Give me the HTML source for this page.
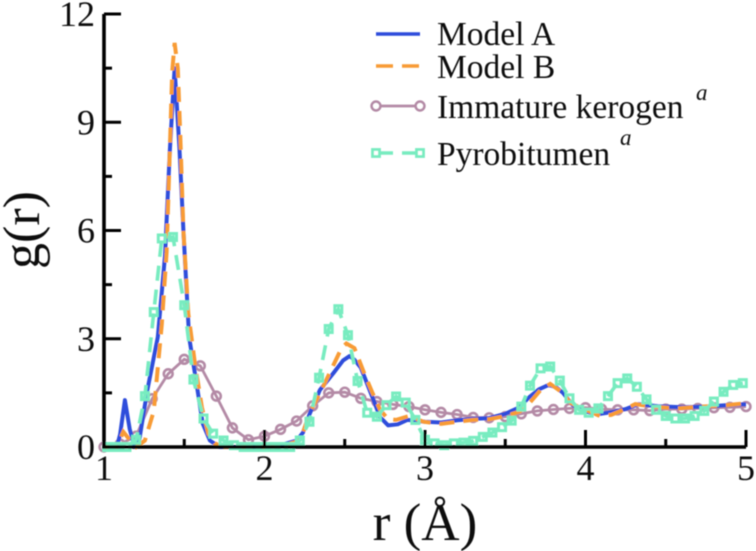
<!DOCTYPE html>
<html lang="en">
<head>
<meta charset="utf-8">
<title>g(r) chart</title>
<style>
html,body{margin:0;padding:0;background:#fff;}
svg{display:block;}
text{font-family:"Liberation Serif",serif;fill:#111;}
</style>
</head>
<body>
<svg id="chart" width="756" height="551" viewBox="0 0 756 551" xmlns="http://www.w3.org/2000/svg">
<defs><filter id="soft" x="-5%" y="-5%" width="110%" height="110%"><feGaussianBlur stdDeviation="0.55"/></filter></defs>
<g id="root" filter="url(#soft)">
<g id="marks"></g>
<g id="axes"></g>
<text x="425" y="540" font-size="53" text-anchor="middle">r (Å)</text>
<text transform="translate(39,230) rotate(-90)" font-size="52" text-anchor="middle">g(r)</text>
<g>
<g>
<line x1="376" x2="420" y1="34" y2="34" stroke="#2f4ddb" stroke-width="3.4"/>
<text x="437" y="45" font-size="33.5">Model A</text>
</g>
<g>
<line x1="376" x2="420" y1="66" y2="66" stroke="#f89b36" stroke-width="3.4" stroke-dasharray="17 9"/>
<text x="437" y="78" font-size="33.5">Model B</text>
</g>
<g>
<line x1="376" x2="420" y1="106" y2="106" stroke="#b48aa6" stroke-width="2.8"/>
<circle cx="376" cy="106" r="4.4" fill="#fff" stroke="#b48aa6" stroke-width="2.6"/>
<circle cx="420" cy="106" r="4.4" fill="#fff" stroke="#b48aa6" stroke-width="2.6"/>
<text x="437" y="118" font-size="33.5">Immature kerogen</text>
<text x="696" y="100" font-size="23" font-style="italic">a</text>
</g>
<g>
<line x1="376" x2="420" y1="153" y2="153" stroke="#78ecc0" stroke-width="3.4" stroke-dasharray="17 9"/>
<rect x="372.5" y="149.5" width="7" height="7" fill="#fff" stroke="#78ecc0" stroke-width="2.8"/>
<rect x="416.5" y="149.5" width="7" height="7" fill="#fff" stroke="#78ecc0" stroke-width="2.8"/>
<text x="437" y="165" font-size="33.5">Pyrobitumen</text>
<text x="620" y="145" font-size="23" font-style="italic">a</text>
</g>
</g>
</g>
</svg>
<script>
const modelAR = [1,1.08,1.1,1.13,1.16,1.19,1.22,1.27,1.335,1.38,1.41,1.44,1.47,1.495,1.53,1.575,1.615,1.66,1.72,1.8,2,2.1,2.2,2.24,2.28,2.345,2.43,2.49,2.53,2.56,2.6,2.655,2.72,2.77,2.83,2.89,3,3.1,3.2,3.3,3.4,3.5,3.58,3.65,3.71,3.77,3.82,3.86,3.92,4,4.08,4.18,4.25,4.33,4.45,4.6,4.75,4.95,5];
const modelAG = [0,0,0.35,1.3,0.5,0,0.2,1.57,3.05,5.3,8.2,10.5,8.3,6,3.05,1.8,0.65,0.18,0,0,0,0.05,0.18,0.4,0.9,1.58,2.05,2.4,2.52,2.42,2.2,1.58,0.83,0.6,0.63,0.75,0.7,0.68,0.74,0.78,0.8,0.92,1.08,1.38,1.6,1.72,1.65,1.5,1.16,0.98,0.91,0.98,1.05,1.19,1.13,1.1,1.12,1.18,1.18];
const modelBR = [1,1.08,1.12,1.16,1.2,1.255,1.31,1.36,1.39,1.41,1.425,1.44,1.46,1.475,1.495,1.525,1.567,1.61,1.65,1.69,1.75,2,2.1,2.2,2.24,2.28,2.345,2.42,2.48,2.51,2.56,2.625,2.67,2.72,2.77,2.82,2.9,2.99,3.1,3.2,3.3,3.4,3.5,3.59,3.65,3.72,3.78,3.85,3.91,4,4.09,4.16,4.24,4.31,4.42,4.57,4.73,4.88,5];
const modelBG = [0,0,0.42,0.2,0,0.18,1,3.4,5.4,8.2,10.4,11.2,10.5,8.7,6,3.7,2.3,1.1,0.37,0.1,0,0,0.02,0.15,0.4,0.93,1.49,2.18,2.74,2.87,2.74,2,1.53,1.03,0.77,0.75,0.86,0.7,0.64,0.7,0.75,0.77,0.86,0.98,1.21,1.58,1.75,1.53,1.21,1.03,0.86,0.89,1.04,1.19,1.12,1.07,1.12,1.16,1.21];
const kerogenR = [1,1.1,1.2,1.3,1.4,1.5,1.6,1.7,1.8,1.9,2,2.1,2.2,2.3,2.4,2.5,2.6,2.7,2.8,2.9,3,3.1,3.2,3.3,3.4,3.5,3.6,3.7,3.8,3.9,4,4.1,4.2,4.3,4.4,4.5,4.6,4.7,4.8,4.9,5];
const kerogenG = [0,0.08,0.3,1.34,2.03,2.43,2.25,1.41,0.53,0.2,0.3,0.49,0.72,1.14,1.5,1.52,1.35,1.26,1.18,1.12,1.03,0.96,0.9,0.82,0.81,0.84,0.92,1,1.04,1.07,1.09,1.05,1.03,1.03,1.01,1.05,1.05,1.07,1.09,1.1,1.12];
const pyroR = [1.02,1.08,1.14,1.2,1.255,1.31,1.36,1.43,1.5,1.557,1.62,1.68,1.745,1.81,1.87,1.93,1.99,2.05,2.11,2.16,2.22,2.28,2.34,2.4,2.46,2.52,2.58,2.64,2.7,2.76,2.82,2.88,2.94,3,3.06,3.12,3.18,3.24,3.3,3.36,3.42,3.48,3.54,3.6,3.654,3.72,3.78,3.84,3.9,3.96,4.02,4.08,4.14,4.2,4.26,4.32,4.38,4.44,4.5,4.56,4.62,4.68,4.74,4.8,4.86,4.92,4.98];
const pyroG = [0,0,0,0.2,1.41,3.74,5.78,5.82,3.93,1.87,0.79,0.37,0.18,0.05,0,0,0,0,0,0,0.18,0.7,1.92,3.27,3.82,3.1,1.83,0.95,0.84,1.16,1.4,1.23,0.75,0.2,0.1,0.05,0.1,0.12,0.17,0.28,0.4,0.55,0.73,1.12,1.7,2.18,2.23,1.84,1.35,1.03,0.95,1.07,1.41,1.77,1.9,1.67,1.32,1.03,0.86,0.79,0.79,0.86,1,1.26,1.53,1.72,1.77];
const xMajorTicks = [1,2,3,4,5];
const xMinorTicks = [1.5,2.5,3.5,4.5];
const yMajorTicks = [0,3,6,9,12];
const yMinorTicks = [1.5,4.5,7.5,10.5];

const NS = 'http://www.w3.org/2000/svg';
const xScale = r => 104 + (r - 1) * 160.5;
const yScale = g => 447 - g * 36.08;
const marks = document.getElementById('marks');
const axes = document.getElementById('axes');
function make(tag, attrs, parent) {
  const el = document.createElementNS(NS, tag);
  for (const k in attrs) el.setAttribute(k, attrs[k]);
  parent.appendChild(el);
  return el;
}
function pts(rs, gs) {
  return rs.map((r, i) => xScale(r).toFixed(1) + ',' + yScale(gs[i]).toFixed(1)).join(' ');
}

const kerogenLine = make('polyline', {points: pts(kerogenR, kerogenG), fill: 'none', stroke: '#b48aa6', 'stroke-width': 2.8}, marks);


kerogenR.forEach((r, i) => {
  const c = make('circle', {cx: xScale(r), cy: yScale(kerogenG[i]), r: 4.4, fill: 'none', stroke: '#b48aa6', 'stroke-width': 2.6}, marks);
  
  
});
const modelALine = make('polyline', {points: pts(modelAR, modelAG), fill: 'none', stroke: '#2f4ddb', 'stroke-width': 4, 'stroke-linejoin': 'round'}, marks);


const modelBLine = make('polyline', {points: pts(modelBR, modelBG), fill: 'none', stroke: '#f89b36', 'stroke-width': 4, 'stroke-dasharray': '15 9'}, marks);


const pyroLine = make('polyline', {points: pts(pyroR, pyroG), fill: 'none', stroke: '#78ecc0', 'stroke-width': 3.6, 'stroke-dasharray': '15 9'}, marks);


pyroR.forEach((r, i) => {
  const s = make('rect', {x: xScale(r) - 3.5, y: yScale(pyroG[i]) - 3.5, width: 7, height: 7, fill: 'none', stroke: '#78ecc0', 'stroke-width': 3}, marks);
  
  
});

const axisPath = make('path', {d: 'M' + xScale(1) + ' ' + yScale(12) + 'V' + yScale(0) + 'H' + xScale(5), fill: 'none', stroke: '#000', 'stroke-width': 3.6}, axes);


function xTick(v, len) {
  const t = make('line', {x1: xScale(v), x2: xScale(v), y1: yScale(0), y2: yScale(0) - len, stroke: '#000', 'stroke-width': 3}, axes);
  
  
}
function yTick(v, len) {
  const t = make('line', {x1: xScale(1), x2: xScale(1) + len, y1: yScale(v), y2: yScale(v), stroke: '#000', 'stroke-width': 3}, axes);
  
  
}
xMajorTicks.forEach(v => {
  xTick(v, 17);
  const t = make('text', {x: xScale(v), y: 480, 'font-size': 36, 'text-anchor': 'middle'}, axes);
  
  
  t.textContent = v;
});
xMinorTicks.forEach(v => xTick(v, 8));
yMajorTicks.forEach(v => {
  yTick(v, 17);
  const t = make('text', {x: 95, y: yScale(v) + 12, 'font-size': 36, 'text-anchor': 'end'}, axes);
  
  
  t.textContent = v;
});
yMinorTicks.forEach(v => yTick(v, 8));
</script>
</body>
</html>
